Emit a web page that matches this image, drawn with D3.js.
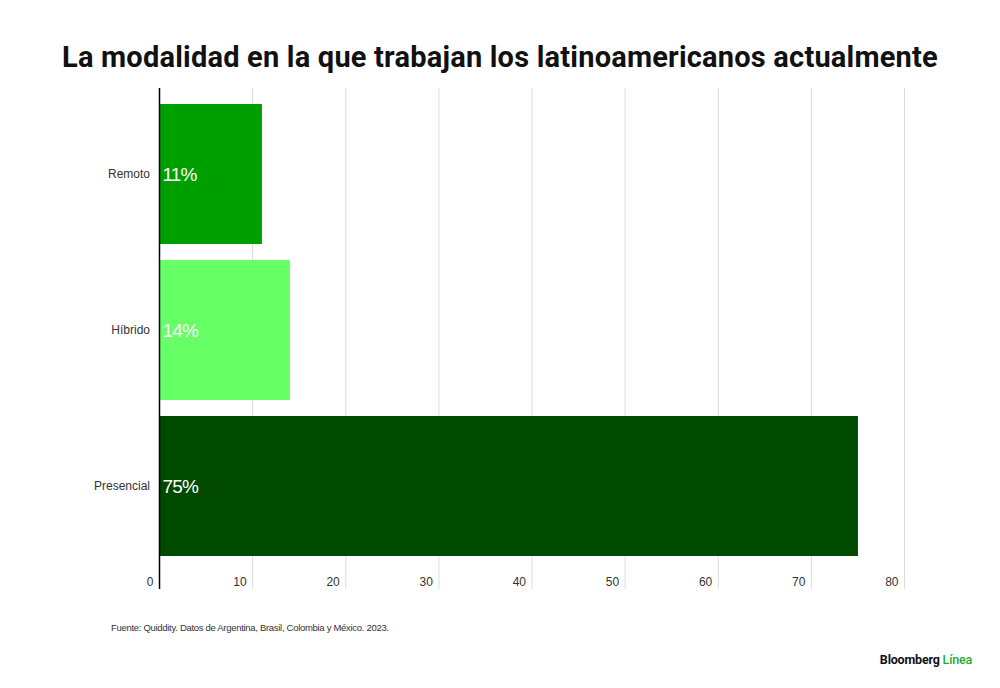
<!DOCTYPE html>
<html>
<head>
<meta charset="utf-8">
<script src="https://cdn.jsdelivr.net/npm/d3@7"></script>
<style>
  body { margin: 0; background: #fff; }
  svg { display: block; }
</style>
</head>
<body>
<div id="chart"></div>
<script>
// data
var categories = ["Remoto", "Híbrido", "Presencial"];
var values = [11, 14, 75];
var barColors = ["#009f00", "#66ff66", "#004a00"];
var xTicks = [0, 10, 20, 30, 40, 50, 60, 70, 80];

var W = 1000, H = 688;
var svg = d3.select("#chart").append("svg")
    .attr("width", W)
    .attr("height", H);

// title
svg.append("text")
    .attr("x", 500)
    .attr("y", 67)
    .attr("text-anchor", "middle")
    .style("font-family", "Roboto, 'Liberation Sans', sans-serif")
    .style("font-weight", "bold")
    .style("font-size", "29px")
    .style("letter-spacing", "0.2px")
    .style("fill", "#111")
    .text("La modalidad en la que trabajan los latinoamericanos actualmente");

var x = d3.scaleLinear()
    .domain([0, 80])
    .range([159.5, 904.5]);

var y = d3.scaleBand()
    .domain(categories)
    .range([88, 572])
    .paddingInner(0.1026)
    .paddingOuter(0.1026);

// vertical gridlines
svg.selectAll("line.grid")
    .data(xTicks.slice(1))
    .enter()
    .append("line")
    .attr("class", "grid")
    .attr("x1", function(d) { return x(d); })
    .attr("x2", function(d) { return x(d); })
    .attr("y1", 88)
    .attr("y2", 589)
    .attr("stroke", "#dcdcdc")
    .attr("stroke-width", 1);

// bars
svg.selectAll("rect.bar")
    .data(values)
    .enter()
    .append("rect")
    .attr("class", "bar")
    .attr("x", x(0))
    .attr("y", function(d, i) { return y(categories[i]); })
    .attr("width", function(d) { return x(d) - x(0); })
    .attr("height", y.bandwidth())
    .attr("fill", function(d, i) { return barColors[i]; });

// value labels inside bars
svg.selectAll("text.val")
    .data(values)
    .enter()
    .append("text")
    .attr("class", "val")
    .attr("x", x(0) + 3)
    .attr("y", function(d, i) { return y(categories[i]) + y.bandwidth() / 2; })
    .attr("dy", "0.36em")
    .style("font-family", "'Liberation Sans', Arial, sans-serif")
    .style("font-size", "19px")
    .style("letter-spacing", "-0.8px")
    .style("fill", "#fff")
    .text(function(d) { return d + "%"; });

// category labels
svg.selectAll("text.cat")
    .data(categories)
    .enter()
    .append("text")
    .attr("class", "cat")
    .attr("x", 150)
    .attr("y", function(d) { return y(d) + y.bandwidth() / 2; })
    .attr("dy", "0.35em")
    .attr("text-anchor", "end")
    .style("font-family", "'Liberation Sans', Arial, sans-serif")
    .style("font-size", "12px")
    .style("fill", "#333")
    .text(function(d) { return d; });

// x tick labels
svg.selectAll("text.tick")
    .data(xTicks)
    .enter()
    .append("text")
    .attr("class", "tick")
    .attr("x", function(d) { return x(d) - 6; })
    .attr("y", 582)
    .attr("dy", "0.35em")
    .attr("text-anchor", "end")
    .style("font-family", "'Liberation Sans', Arial, sans-serif")
    .style("font-size", "12px")
    .style("fill", "#333")
    .text(function(d) { return d; });

// y axis line
svg.append("line")
    .attr("x1", x(0))
    .attr("x2", x(0))
    .attr("y1", 88)
    .attr("y2", 589)
    .attr("stroke", "#000")
    .attr("stroke-width", 1.5);

// source note
svg.append("text")
    .attr("x", 111)
    .attr("y", 631)
    .style("font-family", "'Liberation Sans', Arial, sans-serif")
    .style("font-size", "9.5px")
    .style("letter-spacing", "-0.3px")
    .style("fill", "#333")
    .text("Fuente: Quiddity. Datos de Argentina, Brasil, Colombia y México. 2023.");

// logo
var logo = svg.append("text")
    .attr("x", 972)
    .attr("y", 664)
    .attr("text-anchor", "end")
    .style("font-family", "Roboto, 'Liberation Sans', sans-serif")
    .style("font-weight", "bold")
    .style("font-size", "12.5px")
    .style("letter-spacing", "-0.2px");
logo.append("tspan").style("fill", "#111").text("Bloomberg ");
logo.append("tspan").style("fill", "#1fae2a").style("font-weight", "500").text("Línea");
</script>
</body>
</html>
